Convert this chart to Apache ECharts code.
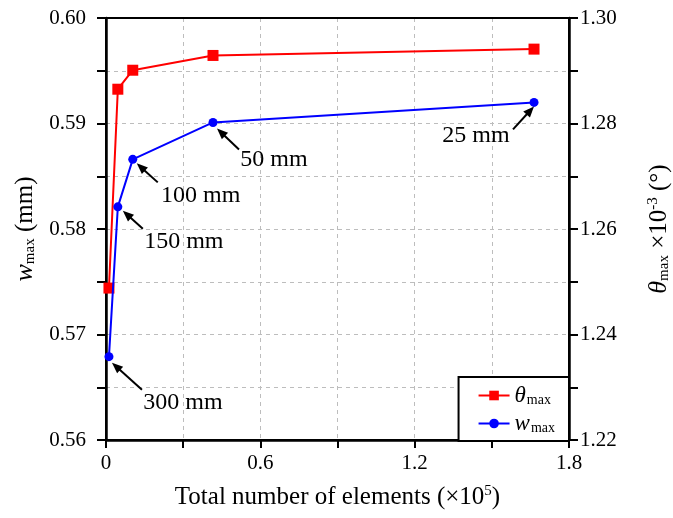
<!DOCTYPE html>
<html>
<head>
<meta charset="utf-8">
<script src="https://cdn.jsdelivr.net/npm/echarts@6/dist/echarts.min.js"></script>
<style>
  html, body { margin: 0; padding: 0; background: #fff; }
  #chart { width: 673px; height: 518px; }
</style>
</head>
<body>
<div id="chart"></div>
<script>
// Mesh convergence study: element size vs. max deflection and max rotation
const meshSizes = ['300 mm', '150 mm', '100 mm', '50 mm', '25 mm'];
const elementCounts = [0.0115, 0.046, 0.104, 0.416, 1.664];   // ×10^5
const wMax = [0.5679, 0.5821, 0.5866, 0.5901, 0.5920];         // mm
const thetaMax = [1.2488, 1.2865, 1.2901, 1.2929, 1.2941];     // ×10^-3 deg

const SERIF = '"Liberation Serif", "DejaVu Serif", serif';

const chart = echarts.init(document.getElementById('chart'), null, { renderer: 'canvas' });

const near = (a, b) => Math.abs(a - b) < 1e-6;
const gridLine = { show: true, lineStyle: { color: '#bdbdbd', type: [4, 4], width: 1 } };

const option = {
  backgroundColor: '#fff',
  animation: false,
  textStyle: { fontFamily: SERIF, color: '#000' },
  grid: {
    left: 106, right: 104, top: 18, bottom: 78,
    containLabel: false, outerBoundsMode: 'none',
    show: true, borderColor: '#000', borderWidth: 2
  },
  legend: {
    right: 104, bottom: 77,
    orient: 'vertical',
    itemWidth: 31, itemHeight: 12, itemGap: 5,
    padding: [7, 14, 6, 19],
    borderColor: '#000', borderWidth: 2,
    backgroundColor: '#fff',
    z: 20,
    data: ['theta', 'w'],
    formatter: n => n === 'theta' ? '{i|θ}{s|max}' : '{i|w}{s|max}',
    textStyle: {
      fontFamily: SERIF,
      rich: {
        i: { fontFamily: SERIF, fontStyle: 'italic', fontSize: 23, color: '#000' },
        s: { fontFamily: SERIF, fontSize: 14, color: '#000', padding: [9, 0, 0, 1] }
      }
    }
  },
  xAxis: [
    {
      type: 'value', min: 0, max: 1.8, interval: 0.3,
      name: '{t|Total number of elements (×10}{sup|5}{t|)}',
      nameLocation: 'middle', nameGap: 44,
      nameTextStyle: {
        rich: {
          t: { fontFamily: SERIF, fontSize: 25, color: '#000' },
          sup: { fontFamily: SERIF, fontSize: 15, color: '#000', padding: [0, 0, 11, 0] }
        }
      },
      axisLine: { onZero: false, lineStyle: { color: '#000', width: 2.5 } },
      axisTick: { inside: false, length: 8, lineStyle: { color: '#000', width: 2 } },
      axisLabel: {
        fontFamily: SERIF, fontSize: 21, color: '#000', margin: 13,
        formatter: v => {
          const k = Math.round(v * 10);
          return k % 6 === 0 ? (k === 0 ? '0' : v.toFixed(1)) : '';
        }
      },
      splitLine: gridLine
    },
    {
      // plain frame edge along the top
      type: 'value', min: 0, max: 1.8, interval: 0.3, position: 'top',
      axisLine: { onZero: false, lineStyle: { color: '#000', width: 2 } },
      axisTick: { show: false }, axisLabel: { show: false }, splitLine: { show: false }
    }
  ],
  yAxis: [
    {
      type: 'value', min: 0.56, max: 0.60, interval: 0.005, position: 'left',
      name: '{i|w}{s|max}{t| (mm)}',
      nameLocation: 'middle', nameGap: 64, nameRotate: 90,
      nameTextStyle: {
        rich: {
          i: { fontFamily: SERIF, fontStyle: 'italic', fontSize: 26, color: '#000' },
          s: { fontFamily: SERIF, fontSize: 15, color: '#000', padding: [10, 0, 0, 0] },
          t: { fontFamily: SERIF, fontSize: 25, color: '#000' }
        }
      },
      axisLine: { show: true, onZero: false, lineStyle: { color: '#000', width: 2.5 } },
      axisTick: { show: true, inside: false, length: 9, lineStyle: { color: '#000', width: 2 } },
      axisLabel: {
        fontFamily: SERIF, fontSize: 21, color: '#000', margin: 20,
        formatter: v => near(v * 100, Math.round(v * 100)) ? v.toFixed(2) : ''
      },
      splitLine: gridLine
    },
    {
      type: 'value', min: 1.22, max: 1.30, interval: 0.01, position: 'right',
      name: '{i|θ}{s|max}{t| ×10}{sup|-3}{t| (°)}',
      nameLocation: 'middle', nameGap: 77, nameRotate: 90,
      nameTextStyle: {
        rich: {
          i: { fontFamily: SERIF, fontStyle: 'italic', fontSize: 26, color: '#000' },
          s: { fontFamily: SERIF, fontSize: 15, color: '#000', padding: [10, 0, 0, 0] },
          t: { fontFamily: SERIF, fontSize: 25, color: '#000' },
          sup: { fontFamily: SERIF, fontSize: 15, color: '#000', padding: [0, 0, 11, 0] }
        }
      },
      axisLine: { show: true, onZero: false, lineStyle: { color: '#000', width: 2.5 } },
      axisTick: { show: true, inside: false, length: 9, lineStyle: { color: '#000', width: 2 } },
      axisLabel: {
        fontFamily: SERIF, fontSize: 21, color: '#000', margin: 11,
        formatter: v => Math.round(v * 100) % 2 === 0 ? v.toFixed(2) : ''
      },
      splitLine: { show: false }
    }
  ],
  series: [
    {
      name: 'theta', type: 'line', yAxisIndex: 1,
      data: elementCounts.map((x, i) => [x, thetaMax[i]]),
      symbol: 'rect', symbolSize: 11,
      lineStyle: { color: '#ff0000', width: 2 },
      itemStyle: { color: '#ff0000' },
      z: 3
    },
    {
      name: 'w', type: 'line', yAxisIndex: 0,
      data: elementCounts.map((x, i) => [x, wMax[i]]),
      symbol: 'circle', symbolSize: 9,
      lineStyle: { color: '#0000ff', width: 2 },
      itemStyle: { color: '#0000ff' },
      z: 4
    }
  ]
};

chart.setOption(option);

// Callout arrows pointing at each mesh-size point of the deflection curve.
// Offsets are in pixels relative to the point: arrow head, arrow tail, label centre.
const callouts = [
  { head: [3, 6], tail: [33, 33], text: [74, 46] },
  { head: [5, 4], tail: [25, 22], text: [66, 35] },
  { head: [4, 4], tail: [25, 23], text: [68, 36] },
  { head: [4, 6], tail: [26, 27], text: [61, 37] },
  { head: [0, 4], tail: [-21, 27], text: [-58, 33] }
];

const elements = [];
meshSizes.forEach((label, i) => {
  const p = chart.convertToPixel({ seriesIndex: 1 }, [elementCounts[i], wMax[i]]);
  const c = callouts[i];
  const hx = p[0] + c.head[0], hy = p[1] + c.head[1];
  const tx = p[0] + c.tail[0], ty = p[1] + c.tail[1];
  const dx = hx - tx, dy = hy - ty;
  const len = Math.hypot(dx, dy);
  const ux = dx / len, uy = dy / len;
  const aL = 11, aW = 4.5;
  const bx = hx - ux * aL, by = hy - uy * aL;
  elements.push({
    type: 'line', z: 10,
    shape: { x1: tx, y1: ty, x2: bx + ux * 2, y2: by + uy * 2 },
    style: { stroke: '#000', lineWidth: 2 }
  });
  elements.push({
    type: 'polygon', z: 10,
    shape: { points: [[hx, hy], [bx - uy * aW, by + ux * aW], [bx + uy * aW, by - ux * aW]] },
    style: { fill: '#000' }
  });
  elements.push({
    type: 'text', z: 10,
    x: p[0] + c.text[0], y: p[1] + c.text[1],
    style: {
      text: label, fill: '#000',
      font: '24px ' + SERIF,
      align: 'center', verticalAlign: 'middle'
    }
  });
});

chart.setOption({ graphic: { elements } });
</script>
</body>
</html>
